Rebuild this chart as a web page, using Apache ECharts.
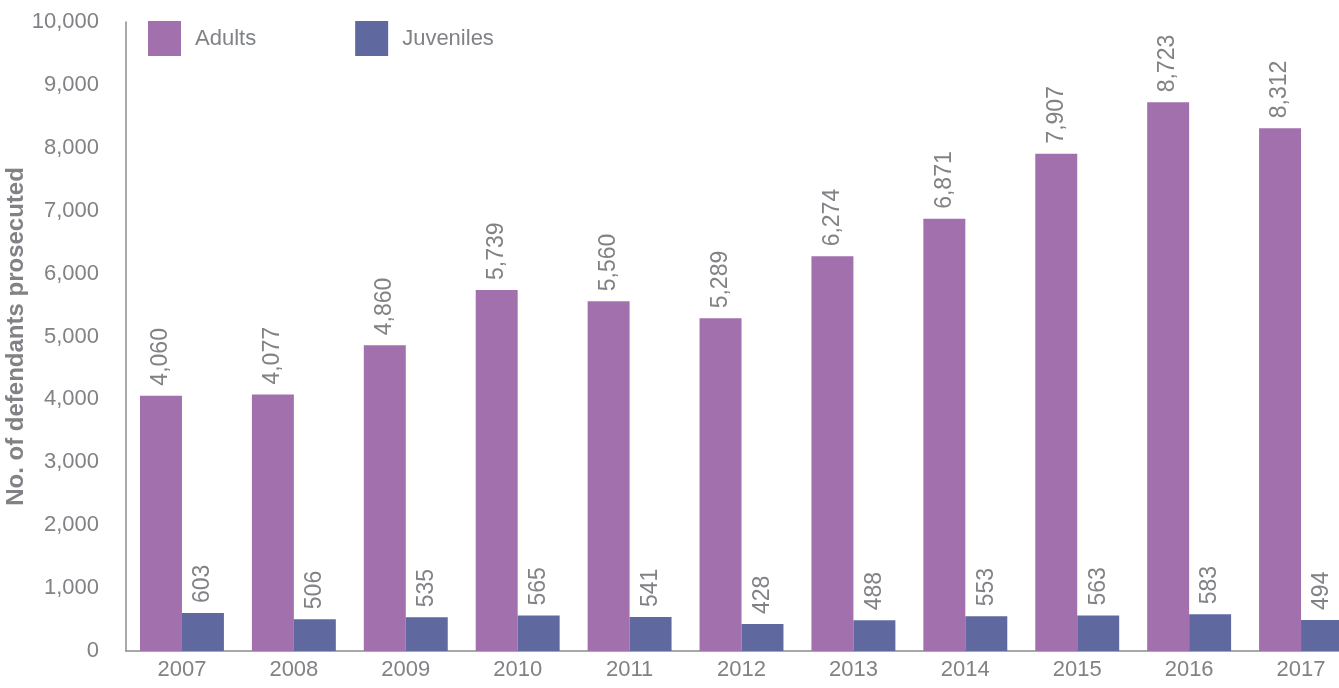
<!DOCTYPE html>
<html><head><meta charset="utf-8">
<script src="https://cdn.jsdelivr.net/npm/echarts@6/dist/echarts.min.js"></script>
<style>html,body{margin:0;padding:0;background:#fff}#c{width:1339px;height:688px}</style>
</head><body><div id="c"></div>
<script>
const years = ['2007','2008','2009','2010','2011','2012','2013','2014','2015','2016','2017'];
const adults = [4060,4077,4860,5739,5560,5289,6274,6871,7907,8723,8312];
const juveniles = [603,506,535,565,541,428,488,553,563,583,494];
const seriesNames = ['Adults','Juveniles'];
const yTicks = {min:0,max:10000,interval:1000};

const FONT = '"Liberation Sans", Arial, sans-serif';
const GRAY = '#808285';
const chart = echarts.init(document.getElementById('c'));
const fmt = v => v.toLocaleString('en-US');
const lbl = {
  show:true, position:'top', rotate:90, align:'left', verticalAlign:'middle',
  distance:10, color:GRAY, fontSize:23, fontFamily:FONT,
  formatter:p=>fmt(p.value)
};
chart.setOption({
  animation:false,
  textStyle:{fontFamily:FONT},
  legend:{
    left:143, top:16, itemWidth:33, itemHeight:35, itemGap:99,
    icon:'rect',
    textStyle:{color:GRAY, fontSize:22, fontFamily:FONT, padding:[0,0,0,9]},
    data:seriesNames
  },
  grid:{left:126, top:22, width:1231, height:629, containLabel:false, outerBoundsMode:'none'},
  xAxis:{
    type:'category', data:years,
    axisLine:{lineStyle:{color:'#8a8c8f', width:1.5}},
    axisTick:{show:false},
    axisLabel:{color:GRAY, fontSize:22, fontFamily:FONT, margin:8}
  },
  yAxis:{
    type:'value', min:yTicks.min, max:yTicks.max, interval:yTicks.interval,
    name:'No. of defendants prosecuted', nameLocation:'middle', nameGap:98, nameMoveOverlap:false,
    nameTextStyle:{color:GRAY, fontSize:24, fontWeight:'bold', fontFamily:FONT},
    axisLine:{show:true, lineStyle:{color:'#8a8c8f', width:1.5}},
    axisTick:{show:false},
    splitLine:{show:false},
    axisLabel:{color:GRAY, fontSize:22, fontFamily:FONT, margin:27, formatter:v=>fmt(v)}
  },
  series:[
    {name:seriesNames[0], type:'bar', data:adults, barGap:'0%', barCategoryGap:'25%',
     itemStyle:{color:'#A170AD'}, label:lbl},
    {name:seriesNames[1], type:'bar', data:juveniles,
     itemStyle:{color:'#5F699F'}, label:lbl}
  ]
});
</script></body></html>
